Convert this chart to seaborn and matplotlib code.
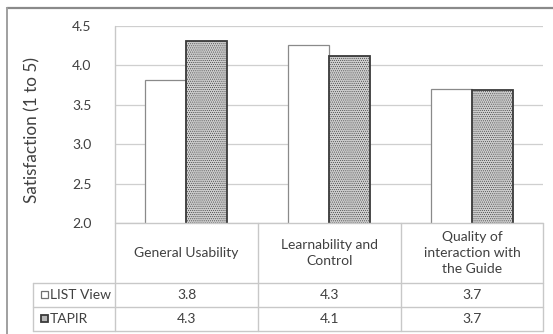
import matplotlib
matplotlib.use("Agg")
import matplotlib.pyplot as plt
from matplotlib.patches import Rectangle
from matplotlib.lines import Line2D
import pandas as pd
import seaborn as sns

# Survey results: mean satisfaction per aspect
categories = ["General Usability", "Learnability and\nControl", "Quality of\ninteraction with\nthe Guide"]
series = ["LIST View", "TAPIR"]
list_view = [3.82, 4.26, 3.70]
tapir = [4.31, 4.12, 3.69]
y_ticks = [2.0, 2.5, 3.0, 3.5, 4.0, 4.5]

df = pd.DataFrame({
    "category": categories * 2,
    "series": [series[0]] * 3 + [series[1]] * 3,
    "value": list_view + tapir,
})

sns.set_theme(style="white")
plt.rcParams["font.family"] = ["Lato", "DejaVu Sans"]
plt.rcParams["hatch.color"] = "#a8a8a8"
plt.rcParams["hatch.linewidth"] = 0.4

W, H = 553, 334
fig = plt.figure(figsize=(W / 100, H / 100), dpi=100)
fig.patch.set_facecolor("white")

# plot area in pixel terms
px_l, px_r, px_t, px_b = 115, 543, 26, 223
ax = fig.add_axes([px_l / W, 1 - px_b / H, (px_r - px_l) / W, (px_b - px_t) / H])

sns.barplot(data=df, x="category", y="value", hue="series", hue_order=series,
            order=categories, width=0.574, palette=["white", "#cdcdcd"],
            legend=False, ax=ax, saturation=1)

for i, bar in enumerate(ax.patches):
    if i < len(categories):
        bar.set_edgecolor("#8a8a8a")
        bar.set_linewidth(0.9)
    else:
        bar.set_edgecolor("#3a3a3a")
        bar.set_linewidth(1.3)
        bar.set_hatch("........")

ax.set_ylim(2.0, 4.5)
ax.set_xlim(-0.5, 2.5)
ax.set_yticks(y_ticks)
ax.set_yticklabels([f"{t:.1f}" for t in y_ticks], fontsize=10, color="#404040")
ax.tick_params(axis="y", length=0, pad=17)
ax.set_xticks([])
ax.set_xlabel("")
ax.set_ylabel("Satisfaction (1 to 5)", fontsize=12.3, color="#404040")
ax.yaxis.set_label_coords(-(115 - 40) / (px_r - px_l), (223 - 130) / (px_b - px_t))
for t in y_ticks:
    ax.axhline(t, color="#cfcfcf", lw=0.9, zorder=0)
for s in ax.spines.values():
    s.set_visible(False)
ax.set_axisbelow(True)

# overlay in pixel coordinates for the data table and frame
ov = fig.add_axes([0, 0, 1, 1], zorder=5)
ov.set_xlim(0, W)
ov.set_ylim(H, 0)
ov.axis("off")
ov.patch.set_alpha(0)

line_c = "#c8c8c8"
col_x = [33, 115, 258, 401, 543]
row_y = [223, 283, 307, 331]

# horizontal table rules
ov.add_line(Line2D([115, 543], [223, 223], color=line_c, lw=1))
for y in row_y[1:]:
    ov.add_line(Line2D([33, 543], [y, y], color=line_c, lw=1))
# vertical table rules
ov.add_line(Line2D([33, 33], [283, 331], color=line_c, lw=1))
ov.add_line(Line2D([115, 115], [26, 331], color=line_c, lw=1))
for x in col_x[2:]:
    ov.add_line(Line2D([x, x], [223, 331], color=line_c, lw=1))

txt_c = "#404040"
for j, cat in enumerate(categories):
    cx = (col_x[j + 1] + col_x[j + 2]) / 2
    ov.text(cx, (223 + 283) / 2, cat, ha="center", va="center", fontsize=10,
            color=txt_c, linespacing=1.4)
    ov.text(cx, (283 + 307) / 2, f"{list_view[j]:.1f}", ha="center", va="center",
            fontsize=10, color=txt_c)
    ov.text(cx, (307 + 331) / 2, f"{tapir[j]:.1f}", ha="center", va="center",
            fontsize=10, color=txt_c)

# legend keys in the table's first column
ov.add_patch(Rectangle((41, 291), 7, 7, facecolor="white", edgecolor="#707070", lw=0.9))
ov.text(50, 295, series[0], ha="left", va="center", fontsize=10, color=txt_c)
ov.add_patch(Rectangle((41, 315), 7, 7, facecolor="#b8b8b8", edgecolor="#3a3a3a", lw=1.3))
ov.text(50, 319, series[1], ha="left", va="center", fontsize=10, color=txt_c)

# chart frame (top and left edges)
ov.add_line(Line2D([7, W], [8, 8], color="#8a8a8a", lw=1.6))
ov.add_line(Line2D([7, 7], [8, H], color="#a0a0a0", lw=1.4))

fig.savefig("out.png", dpi=100)
